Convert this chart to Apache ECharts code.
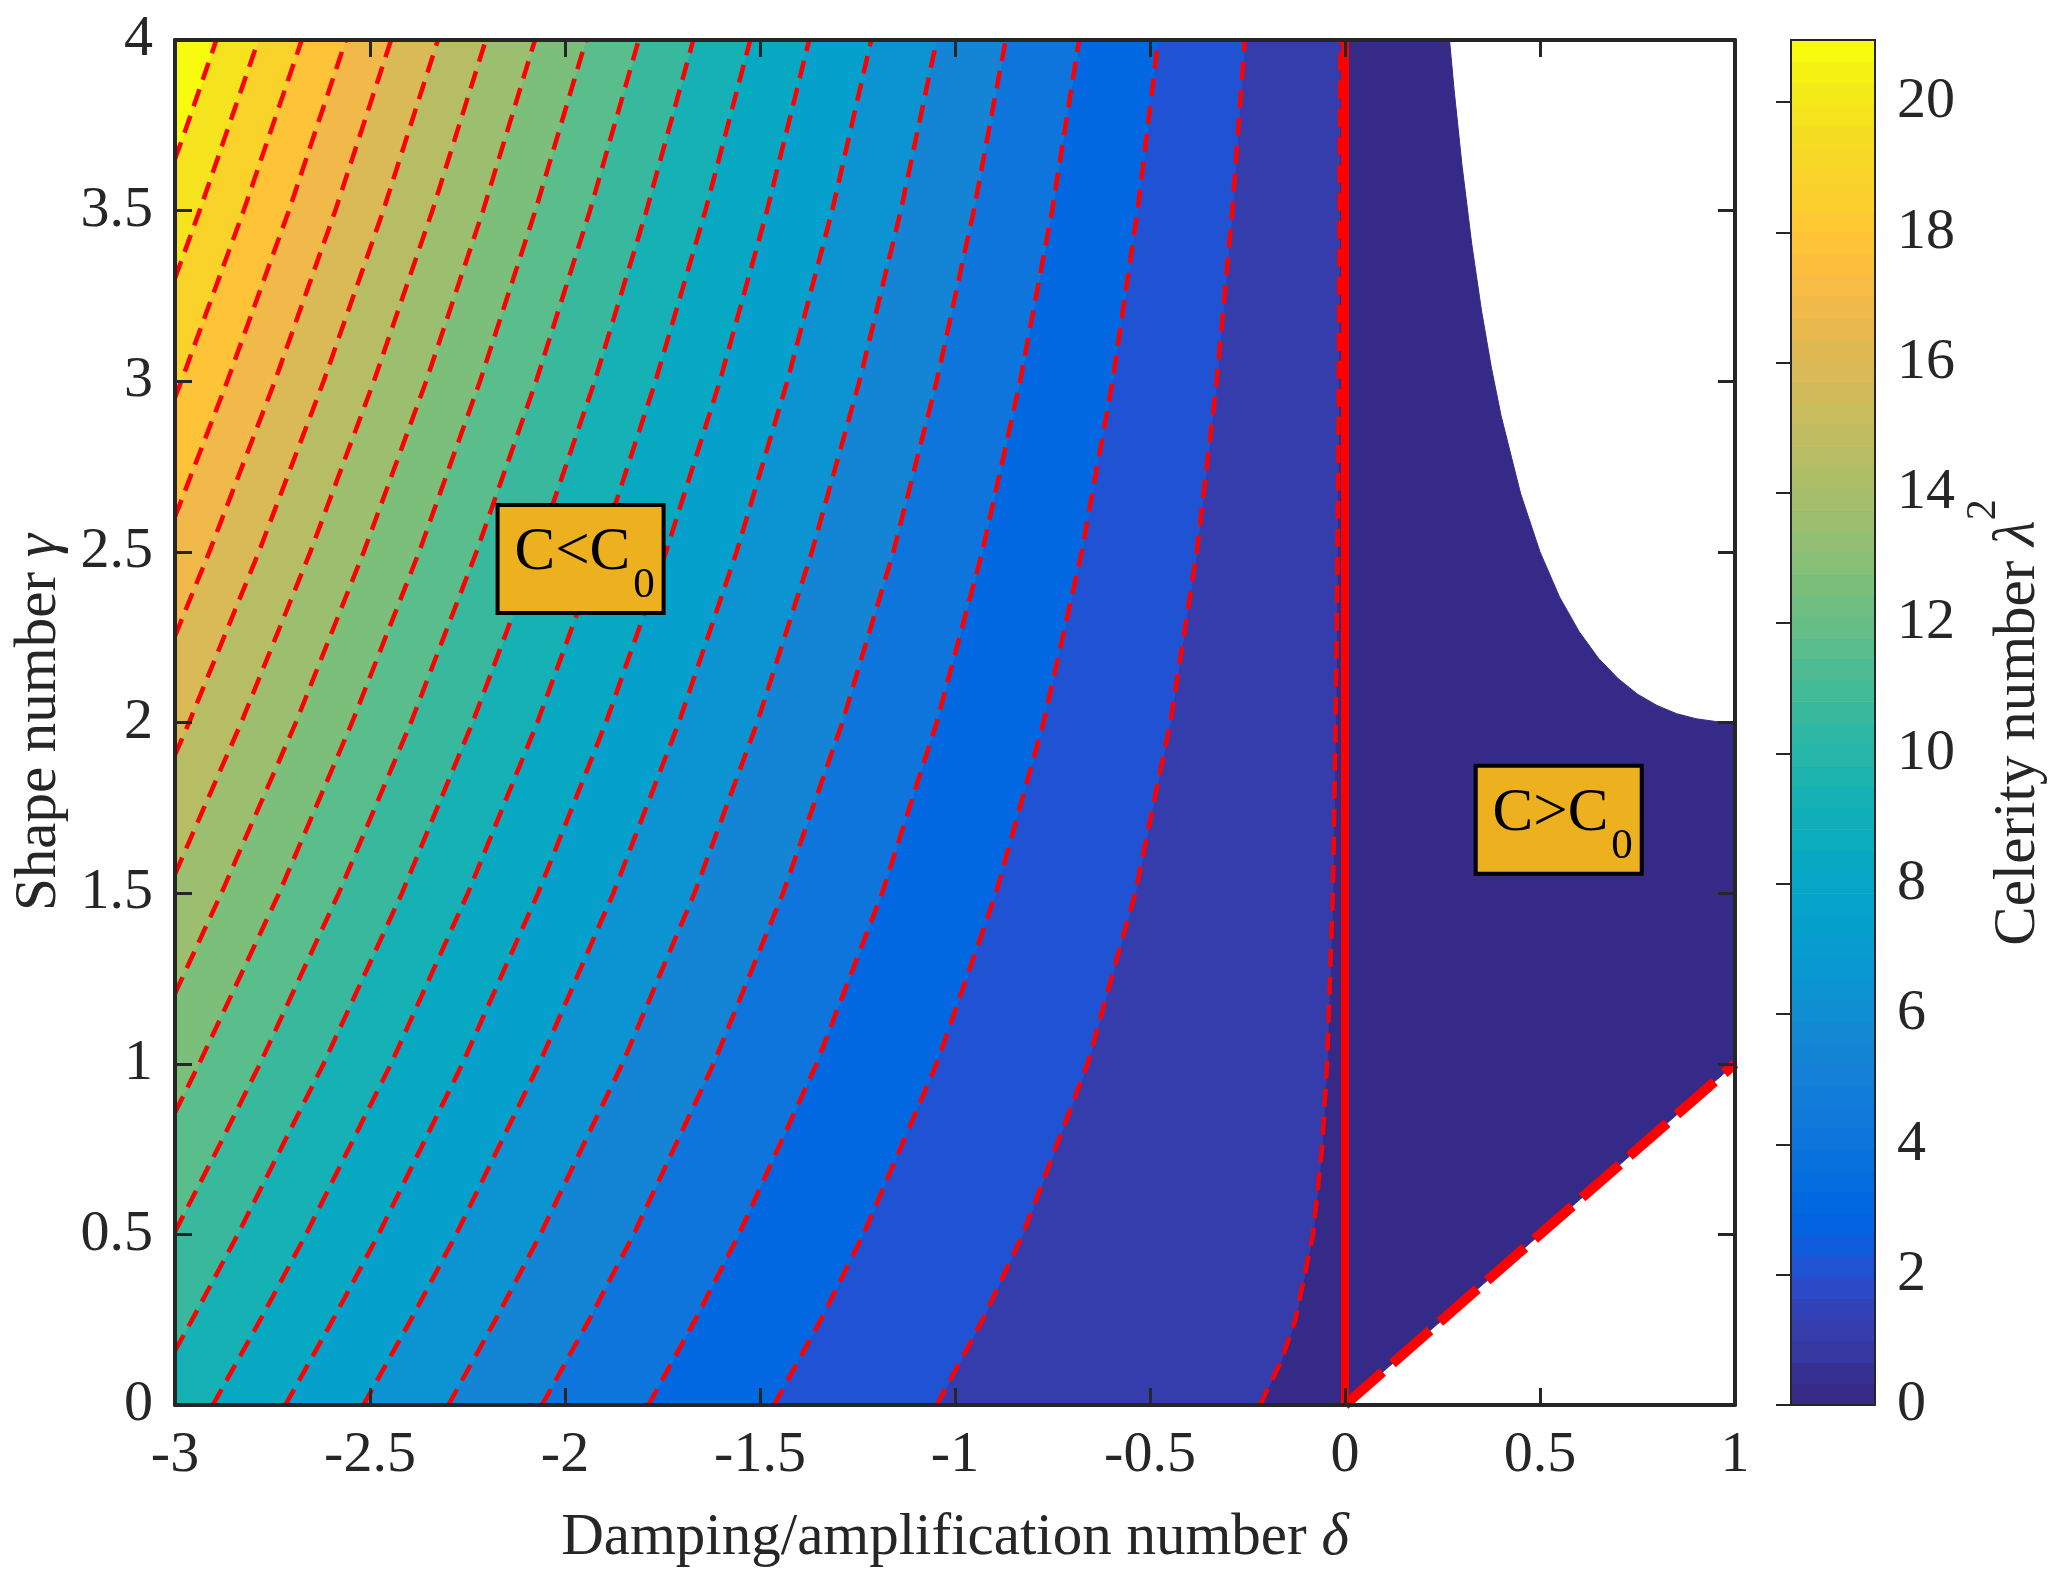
<!DOCTYPE html>
<html><head><meta charset="utf-8">
<script src="https://cdn.jsdelivr.net/npm/echarts@6/dist/echarts.min.js"></script>
<style>html,body{margin:0;padding:0;background:#fff}#c{width:2067px;height:1579px}</style>
</head><body><div id="c"></div>
<script>
// ---- axis ranges ----
const deltaRange = [-3, 1];
const gammaRange = [0, 4];

// ---- parula colormap (64 steps) ----
const parula = ['#352a87','#363093','#3637a0','#353dad','#3243ba','#2c4ac7','#2053d4','#0f5cdd','#0363e1','#0268e1','#046de0','#0871de','#0d75dc','#1079da','#127dd8','#1481d6','#1485d4','#1389d3','#108ed2','#0c93d2','#0998d1','#079ccf','#06a0cd','#06a4ca','#06a7c6','#07a9c2','#0aacbe','#0faeb9','#15b1b4','#1db3af','#25b5a9','#2eb7a4','#38b99e','#42bb98','#4dbc92','#59bd8c','#65be86','#71bf80','#7cbf7b','#87bf77','#92bf73','#9cbf6f','#a5be6b','#aebe67','#b7bd64','#c0bc60','#c8bc5d','#d1bb59','#d9ba56','#e1b952','#e9b94e','#f1b94a','#f8bb44','#fdbe3d','#ffc337','#fec832','#fcce2e','#fad32a','#f7d826','#f5de21','#f5e41d','#f5eb18','#f6f313','#f9fb0e'];
const colorMax = 20.952;
const colorbarTicks = [0, 2, 4, 6, 8, 10, 12, 14, 16, 18, 20];

// ---- contour levels of lambda^2 and their lines [delta, gamma] ----
const contourLevels = [1.048, 2.095, 3.143, 4.190, 5.238, 6.286, 7.333, 8.381, 9.429, 10.476, 11.524, 12.571, 13.619, 14.667, 15.714, 16.762, 17.810, 18.857, 19.905, 20.952];
const contourPaths = [
  [[-0.218,0],[-0.165,0.125],[-0.127,0.25],[-0.082,0.5],[-0.059,0.75],[-0.046,1],[-0.031,1.5],[-0.024,2],[-0.019,2.5],[-0.016,3],[-0.014,3.5],[-0.012,4]],
  [[-1.047,0],[-0.929,0.25],[-0.826,0.5],[-0.660,1],[-0.538,1.5],[-0.448,2],[-0.380,2.5],[-0.329,3],[-0.289,3.5],[-0.257,4]],
  [[-1.464,0],[-1.344,0.25],[-1.235,0.5],[-1.047,1],[-0.895,1.5],[-0.773,2],[-0.675,2.5],[-0.596,3],[-0.532,3.5],[-0.479,4]],
  [[-1.786,0],[-1.666,0.25],[-1.554,0.5],[-1.355,1],[-1.187,1.5],[-1.047,2],[-0.930,2.5],[-0.833,3],[-0.751,3.5],[-0.682,4]],
  [[-2.059,0],[-1.938,0.25],[-1.824,0.5],[-1.619,1],[-1.441,1.5],[-1.289,2],[-1.158,2.5],[-1.047,3],[-0.952,3.5],[-0.870,4]],
  [[-2.299,0],[-2.178,0.25],[-2.063,0.5],[-1.853,1],[-1.668,1.5],[-1.507,2],[-1.367,2.5],[-1.245,3],[-1.139,3.5],[-1.047,4]],
  [[-2.517,0],[-2.395,0.25],[-2.279,0.5],[-2.066,1],[-1.876,1.5],[-1.708,2],[-1.560,2.5],[-1.430,3],[-1.315,3.5],[-1.215,4]],
  [[-2.717,0],[-2.595,0.25],[-2.478,0.5],[-2.263,1],[-2.069,1.5],[-1.895,2],[-1.741,2.5],[-1.603,3],[-1.482,3.5],[-1.374,4]],
  [[-2.903,0],[-2.781,0.25],[-2.664,0.5],[-2.446,1],[-2.249,1.5],[-2.071,2],[-1.911,2.5],[-1.768,3],[-1.640,3.5],[-1.525,4]],
  [[-3,0.159],[-2.956,0.25],[-2.839,0.5],[-2.619,1],[-2.418,1.5],[-2.237,2],[-2.073,2.5],[-1.924,3],[-1.791,3.5],[-1.671,4]],
  [[-3,0.508],[-2.891,0.75],[-2.782,1],[-2.580,1.5],[-2.395,2],[-2.227,2.5],[-2.074,3],[-1.936,3.5],[-1.811,4]],
  [[-3,0.857],[-2.938,1],[-2.733,1.5],[-2.546,2],[-2.374,2.5],[-2.218,3],[-2.076,3.5],[-1.946,4]],
  [[-3,1.206],[-2.881,1.5],[-2.690,2],[-2.516,2.5],[-2.356,3],[-2.210,3.5],[-2.077,4]],
  [[-3,1.556],[-2.830,2],[-2.653,2.5],[-2.490,3],[-2.340,3.5],[-2.203,4]],
  [[-3,1.905],[-2.964,2],[-2.785,2.5],[-2.619,3],[-2.466,3.5],[-2.326,4]],
  [[-3,2.254],[-2.912,2.5],[-2.744,3],[-2.589,3.5],[-2.446,4]],
  [[-3,2.603],[-2.866,3],[-2.708,3.5],[-2.562,4]],
  [[-3,2.952],[-2.984,3],[-2.824,3.5],[-2.675,4]],
  [[-3,3.302],[-2.937,3.5],[-2.786,4]],
  [[-3,3.651],[-2.969,3.75],[-2.894,4]]
];

// ---- limits of the valid region ----
const upperLimitCurve = [[1,2],[0.95,2.003],[0.9,2.011],[0.85,2.026],[0.8,2.05],[0.75,2.083],[0.7,2.129],[0.65,2.188],[0.6,2.267],[0.55,2.368],[0.5,2.5],[0.45,2.672],[0.4,2.9],[0.375,3.042],[0.35,3.207],[0.325,3.402],[0.3,3.633],[0.28,3.851],[0.268,4]];
const lowerLimitLine = [[0,0],[1,1]];
const zeroDampingLine = [[0,0],[0,4]];

// ---- annotations ----
const annotationText = ['C<C', 'C>C'];
const annotationSub = ['0', '0'];
const annotationPos = [[-1.960, 2.479], [0.548, 1.715]];

// ---- derived geometry ----
const x0 = deltaRange[0], y0 = gammaRange[0], y1 = gammaRange[1];
const domainPoly = [[x0, y0]].concat(lowerLimitLine, upperLimitCurve, [[x0, y1]]);
const bandPolys = contourPaths.map(function (pts) {
  const poly = pts.concat([[x0, y1]]);
  if (pts[0][1] === y0) poly.push([x0, y0]);
  return poly;
});
function levelColor(v) {
  return parula[Math.max(0, Math.min(parula.length - 1, Math.floor(v / colorMax * parula.length + 1e-6)))];
}

const FONT = "'Liberation Serif','Times New Roman',serif";
const AX = '#262626';
const FS = 58;   // tick labels
const FT = 59;   // axis titles

const chart = echarts.init(document.getElementById('c'), null, {renderer: 'canvas', width: 2067, height: 1579});

function mainAxis(pos, extra) {
  return Object.assign({
    type: 'value', gridIndex: 0, position: pos, z: 10,
    axisLine: {show: true, onZero: false, lineStyle: {color: AX, width: 4}},
    axisTick: {show: true, inside: true, length: 17, lineStyle: {color: AX, width: 3}},
    axisLabel: {show: false},
    splitLine: {show: false}
  }, extra);
}

const option = {
  animation: false,
  backgroundColor: '#ffffff',
  grid: [
    {left: 175, top: 40, width: 1560, height: 1365},
    {left: 1791, top: 40, width: 84, height: 1365}
  ],
  xAxis: [
    mainAxis('bottom', {
      min: deltaRange[0], max: deltaRange[1], interval: 0.5,
      axisLabel: {show: true, fontFamily: FONT, fontSize: FS, color: AX, margin: 22},
      name: 'Damping/amplification number {i|δ}',
      nameLocation: 'middle', nameGap: 104,
      nameTextStyle: {fontFamily: FONT, fontSize: FT, color: AX,
        rich: {i: {fontFamily: FONT, fontSize: FT, fontStyle: 'italic', color: AX}}}
    }),
    mainAxis('top', {min: deltaRange[0], max: deltaRange[1], interval: 0.5}),
    {type: 'value', gridIndex: 1, min: 0, max: 1, show: false}
  ],
  yAxis: [
    mainAxis('left', {
      min: gammaRange[0], max: gammaRange[1], interval: 0.5,
      axisLabel: {show: true, fontFamily: FONT, fontSize: FS, color: AX, margin: 22},
      name: 'Shape number {i|γ}',
      nameLocation: 'middle', nameGap: 106, nameRotate: 90,
      nameTextStyle: {fontFamily: FONT, fontSize: FT, color: AX,
        rich: {i: {fontFamily: FONT, fontSize: FT, fontStyle: 'italic', color: AX}}}
    }),
    mainAxis('right', {min: gammaRange[0], max: gammaRange[1], interval: 0.5}),
    {
      type: 'value', gridIndex: 1, position: 'right', min: 0, max: colorMax, interval: 2, z: 10,
      axisLine: {show: true, lineStyle: {color: AX, width: 2}},
      axisTick: {show: true, inside: true, length: 15, lineStyle: {color: AX, width: 2}},
      axisLabel: {show: true, fontFamily: FONT, fontSize: FS, color: AX, margin: 22, showMaxLabel: false,
        formatter: function (v) { return colorbarTicks.indexOf(v) >= 0 ? String(v) : ''; }},
      splitLine: {show: false},
      name: '{t|Celerity number }{i|λ}{s|2}',
      nameLocation: 'middle', nameGap: 88, nameRotate: 90,
      nameTextStyle: {fontFamily: FONT, fontSize: FT, color: AX,
        rich: {
          t: {fontFamily: FONT, fontSize: FT, color: AX, lineHeight: 110},
          i: {fontFamily: FONT, fontSize: FT, color: AX, fontStyle: 'italic', lineHeight: 110},
          s: {fontFamily: FONT, fontSize: 42, color: AX, lineHeight: 42, verticalAlign: 'top'}
        }}
    }
  ],
  series: [
    {
      type: 'custom', name: 'domain', xAxisIndex: 0, yAxisIndex: 0, clip: true, z: 1, silent: true,
      data: [[0, 0]],
      renderItem: function (p, api) {
        return {type: 'polygon', shape: {points: domainPoly.map(function (q) { return api.coord(q); })},
          style: {fill: parula[0], stroke: parula[0], lineWidth: 1}};
      }
    },
    {
      type: 'custom', name: 'bands', xAxisIndex: 0, yAxisIndex: 0, clip: true, z: 2, silent: true,
      data: contourLevels.map(function (L, i) { return [i, L]; }),
      renderItem: function (p, api) {
        const poly = bandPolys[p.dataIndex];
        const col = levelColor(contourLevels[p.dataIndex]);
        return {type: 'polygon', shape: {points: poly.map(function (q) { return api.coord(q); })},
          style: {fill: col, stroke: col, lineWidth: 1}};
      }
    },
    {
      type: 'custom', name: 'contours', xAxisIndex: 0, yAxisIndex: 0, clip: true, z: 3, silent: true,
      data: contourLevels.map(function (L, i) { return [i, L]; }),
      renderItem: function (p, api) {
        const pts = contourPaths[p.dataIndex];
        return {type: 'polyline', shape: {points: pts.map(function (q) { return api.coord(q); })},
          style: {fill: null, stroke: '#ff0000', lineWidth: 4.5, lineDash: [18, 10]}};
      }
    },
    {
      type: 'line', name: 'zero', xAxisIndex: 0, yAxisIndex: 0, z: 4, silent: true,
      data: zeroDampingLine, symbol: 'none',
      lineStyle: {color: '#ff0000', width: 8}
    },
    {
      type: 'line', name: 'lower', xAxisIndex: 0, yAxisIndex: 0, z: 4, silent: true,
      data: lowerLimitLine, symbol: 'none',
      lineStyle: {color: '#ff0000', width: 10, type: [50, 13], cap: 'butt'}
    },
    {
      type: 'custom', name: 'notes', xAxisIndex: 0, yAxisIndex: 0, z: 6, silent: true,
      data: annotationPos,
      renderItem: function (p, api) {
        const c = api.coord(annotationPos[p.dataIndex]);
        return {type: 'group', x: c[0], y: c[1], children: [
          {type: 'rect', shape: {x: -83, y: -54, width: 166, height: 108},
            style: {fill: '#EDB120', stroke: '#000000', lineWidth: 4}},
          {type: 'text', x: 4, y: -6, style: {
            text: '{a|' + annotationText[p.dataIndex] + '}{b|' + annotationSub[p.dataIndex] + '}',
            align: 'center', verticalAlign: 'middle',
            rich: {
              a: {fontFamily: FONT, fontSize: 61, fill: '#000', lineHeight: 109},
              b: {fontFamily: FONT, fontSize: 43, fill: '#000', lineHeight: 43, verticalAlign: 'bottom', padding: [0, 0, 0, 3]}
            }
          }}
        ]};
      }
    },
    {
      type: 'custom', name: 'colorbar', xAxisIndex: 2, yAxisIndex: 2, z: 2, silent: true,
      data: parula.map(function (c, i) { return [i]; }),
      renderItem: function (p, api) {
        const i = p.dataIndex;
        const a = api.coord([0, i * colorMax / parula.length]);
        const b = api.coord([1, (i + 1) * colorMax / parula.length]);
        return {type: 'rect', shape: {x: a[0], y: b[1], width: b[0] - a[0], height: a[1] - b[1] + 0.6},
          style: {fill: parula[i]}};
      }
    },
    {
      type: 'custom', name: 'colorbarFrame', xAxisIndex: 2, yAxisIndex: 2, z: 5, silent: true,
      data: [[0, 0]],
      renderItem: function (p, api) {
        const a = api.coord([0, 0]);
        const b = api.coord([1, colorMax]);
        return {type: 'rect', shape: {x: a[0], y: b[1], width: b[0] - a[0], height: a[1] - b[1]},
          style: {fill: null, stroke: AX, lineWidth: 2}};
      }
    }
  ]
};
chart.setOption(option);
</script>
</body></html>
